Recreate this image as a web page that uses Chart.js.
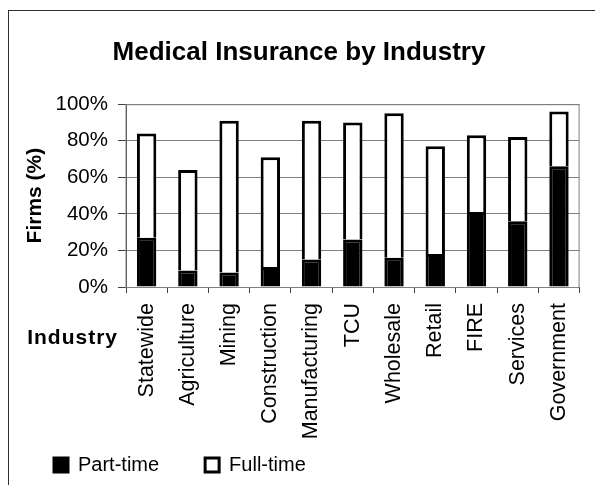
<!DOCTYPE html>
<html>
<head>
<meta charset="utf-8">
<script src="https://cdn.jsdelivr.net/npm/chart.js@4/dist/chart.umd.min.js"></script>
<style>
  html, body { margin: 0; padding: 0; background: #fff; }
  #wrap { position: relative; width: 595px; height: 485px; overflow: hidden; }
  #frame { position: absolute; left: 8px; top: 10px; width: 700px; height: 600px;
           border: 1px solid #303030; pointer-events: none; }
</style>
</head>
<body>
<div id="wrap">
  <canvas id="myChart" width="595" height="485"></canvas>
  <div id="frame"></div>
</div>
<script>
// chart data
var categories = ['Statewide', 'Agriculture', 'Mining', 'Construction', 'Manufacturing',
                  'TCU', 'Wholesale', 'Retail', 'FIRE', 'Services', 'Government'];
var partTime = [27, 9, 8, 11, 15, 26, 16, 18, 41, 36, 66];
var fullTime = [57, 55, 83, 60, 76, 64, 79, 59, 42, 46, 30];
var yTicks = [0, 20, 40, 60, 80, 100];

Chart.defaults.font.family = '"Liberation Sans", Arial, sans-serif';
Chart.defaults.color = '#000';

// gray box round the plot area (top and right edges)
var plotBorder = {
    id: 'plotBorder',
    beforeDatasetsDraw: function (chart) {
        var a = chart.chartArea, ctx = chart.ctx;
        ctx.save();
        ctx.strokeStyle = '#808080';
        ctx.lineWidth = 1;
        ctx.strokeRect(a.left, a.top + 0.5, a.right - a.left - 0.5, a.bottom - a.top);
        ctx.restore();
    }
};

// long category names run down past the legend's box, so don't clip them there
var longLabels = {
    id: 'longLabels',
    afterLayout: function (chart) {
        chart.scales.x.bottom = chart.height;
    }
};

// "Industry" sits left of the category labels
var industryLabel = {
    id: 'industryLabel',
    afterDraw: function (chart) {
        var ctx = chart.ctx, x = chart.scales.x;
        ctx.save();
        ctx.font = 'bold 21px "Liberation Sans", Arial, sans-serif';
        ctx.fillStyle = '#000';
        ctx.letterSpacing = '1px';
        ctx.textAlign = 'right';
        ctx.textBaseline = 'alphabetic';
        ctx.fillText('Industry', chart.chartArea.left - 8, x.top + 57);
        ctx.restore();
    }
};

document.addEventListener('DOMContentLoaded', function () {
    var ctx = document.getElementById('myChart').getContext('2d');
    var myChart = new Chart(ctx, {
        type: 'bar',
        data: {
            labels: categories,
            datasets: [{
                label: 'Part-time',
                data: partTime,
                backgroundColor: '#000',
                borderColor: '#000',
                borderWidth: 3
            }, {
                label: 'Full-time',
                data: fullTime,
                backgroundColor: '#fff',
                borderColor: '#000',
                borderWidth: 3
            }]
        },
        options: {
            responsive: false,
            animation: false,
            layout: { padding: { left: 8, right: 5, top: 0, bottom: 0 } },
            datasets: {
                bar: { categoryPercentage: 1, barPercentage: 0.47 }
            },
            scales: {
                x: {
                    stacked: true,
                    afterFit: function (s) { s.height = 122; },
                    grid: { drawOnChartArea: false, tickLength: 6, tickColor: '#404040' },
                    border: { color: '#404040' },
                    ticks: {
                        font: { size: 21.5 },
                        minRotation: 90,
                        maxRotation: 90,
                        padding: 10,
                        autoSkip: false
                    }
                },
                y: {
                    stacked: true,
                    min: 0,
                    max: 100,
                    afterFit: function (s) { s.width = 118; },
                    afterBuildTicks: function (s) {
                        s.ticks = yTicks.map(function (v) { return { value: v }; });
                    },
                    grid: { color: '#808080', tickLength: 8, tickColor: '#404040' },
                    border: { color: '#404040' },
                    ticks: {
                        font: { size: 20.5 },
                        padding: 10,
                        callback: function (v) { return v + '%'; }
                    },
                    title: {
                        display: true,
                        text: 'Firms (%)',
                        font: { size: 21, weight: 'bold' },
                        padding: { top: 15, bottom: 0 }
                    }
                }
            },
            plugins: {
                title: {
                    display: true,
                    text: 'Medical Insurance by Industry',
                    font: { size: 26, weight: 'bold' },
                    color: '#000',
                    padding: { top: 37, bottom: 36 }
                },
                legend: {
                    display: true,
                    position: 'bottom',
                    align: 'start',
                    labels: {
                        boxWidth: 14,
                        boxHeight: 14,
                        padding: 46,
                        font: { size: 20 },
                        color: '#000'
                    }
                },
                tooltip: { enabled: false }
            }
        },
        plugins: [plotBorder, longLabels, industryLabel]
    });
});
</script>
</body>
</html>
